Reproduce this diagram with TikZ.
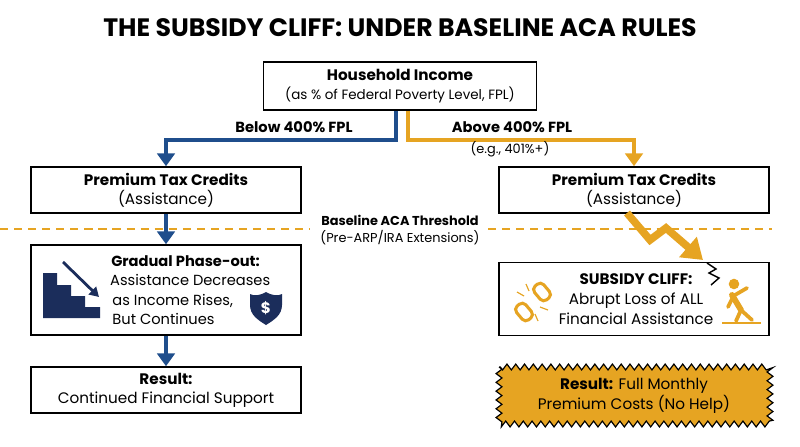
\documentclass[tikz,border=0pt]{standalone}
\usepackage{fontspec}
\setmainfont{Poppins}
\usetikzlibrary{positioning,decorations.pathmorphing,arrows.meta}
\definecolor{acablue}{HTML}{1F4E8C}
\definecolor{acanavy}{HTML}{1B2D5B}
\definecolor{acaorange}{HTML}{E6A422}

\begin{document}
\begin{tikzpicture}[x=0.03cm,y=-0.03cm,
  box/.style={draw=black,line width=1.3pt,fill=white,minimum width=8.1cm,align=center,font=\fontsize{13}{16}\selectfont},
  lbl/.style={align=center,font=\fontsize{11}{14}\selectfont},
  bluearrow/.style={draw=acablue,line width=3.2pt,-{Triangle[length=11pt,width=15pt]}},
  orangearrow/.style={draw=acaorange,line width=3.2pt,-{Triangle[length=11pt,width=15pt]}}]
\useasboundingbox (0,0) rectangle (800,447);

% Title
\node (title) at (400,28) {\fontsize{21.5}{24}\selectfont\bfseries THE SUBSIDY CLIFF: UNDER BASELINE ACA RULES};

% Top box
\node [box,minimum width=8.2cm,minimum height=1.45cm] (income) at (400,86) {\textbf{Household Income}\\{\fontsize{11.5}{14}\selectfont(as \% of Federal Poverty Level, FPL)}};

% Tax credit boxes
\node [box,minimum height=1.38cm] (ptcL) at (166,190) {\textbf{Premium Tax Credits}\\(Assistance)};
\node [box,minimum height=1.38cm] (ptcR) at (634,190) {\textbf{Premium Tax Credits}\\(Assistance)};

% Split
\coordinate (splitL) at (396,140);
\coordinate (splitR) at (408,140);
\draw [bluearrow] (income.south -| splitL) -- (splitL) -| (ptcL.north);
\draw [orangearrow] (income.south -| splitR) -- (splitR) -| (ptcR.north);
\node [lbl,font=\fontsize{12.5}{14}\selectfont\bfseries] (below) at (294,127) {Below 400\% FPL};
\node [lbl,font=\fontsize{12.5}{14}\selectfont\bfseries] (above) at (512,127) {Above 400\% FPL};
\node [lbl] (eg) at (510,149) {(e.g., 401\%+)};

% Threshold
\draw [acaorange,line width=1.3pt,dash pattern=on 7pt off 5pt] (0,229) -- (310,229);
\draw [acaorange,line width=1.3pt,dash pattern=on 7pt off 5pt] (488,229) -- (772,229);
\node [lbl,font=\fontsize{11}{15}\selectfont] (thresh) at (400,230) {\textbf{Baseline ACA Threshold}\\(Pre-ARP/IRA Extensions)};

% Left column
\node [box,minimum height=2.7cm] (phase) at (166,290) {};
\node [align=left,anchor=west,font=\fontsize{12.5}{16.5}\selectfont] (phasetxt) at (106,290) {\hspace*{1pt}\textbf{Gradual Phase-out:}\\Assistance Decreases\\\hspace*{2pt}as Income Rises,\\\hspace*{2pt}But Continues};
\node [box,minimum height=1.38cm] (resL) at (166,390) {\textbf{Result:}\\Continued Financial Support};
\draw [bluearrow] (ptcL.south) -- (phase.north);
\draw [bluearrow] (phase.south) -- (resL.north);

% stairs icon
\fill [acanavy] (43,318) -- (43,273) -- (57,273) -- (57,285) -- (71,285) -- (71,296) -- (85,296) -- (85,307) -- (100,307) -- (100,318) -- cycle;
\draw [acanavy,line width=2.4pt,-{Triangle[length=8pt,width=9pt]}] (63,262) -- (99,297);
% shield icon
\fill [acanavy] (266,292) .. controls (273,296) and (278,296) .. (282,294) -- (282,305) .. controls (282,315) and (274,320) .. (266,325) .. controls (258,320) and (250,315) .. (250,305) -- (250,294) .. controls (254,296) and (259,296) .. (266,292) -- cycle;
\node [text=white,font=\fontsize{13}{13}\selectfont\bfseries] (dollar) at (266,308) {\$};

% Right column
\node [box,minimum height=2.2cm] (cliff) at (634,299) {};
\node [align=center,font=\fontsize{13}{17}\selectfont] (clifftxt) at (636,299) {\textbf{SUBSIDY CLIFF:}\\Abrupt Loss of ALL\\Financial Assistance};
\coordinate (dropstart) at (627,213);
\coordinate (crack) at (707,263);
\draw [acaorange,line width=6.5pt,line join=miter,-{Triangle[length=17pt,width=22pt]}] (dropstart) -- (650,240) -- (666,228) -- (703,260);
% crack
\draw [black,line width=1.2pt] (crack) -- (716,269) -- (709,273) -- (719,278) -- (711,285);
% broken chain
\begin{scope}[acaorange,line width=2.6pt]
\draw [rounded corners=4pt,rotate around={-50:(542,292)}] (533,286) rectangle (551,298);
\draw [rounded corners=4pt,rotate around={-50:(524,312)}] (515,306) rectangle (533,318);
\draw [line width=1pt] (517,292) -- (524,296) (526,284) -- (529,291) (540,307) -- (548,310) (535,314) -- (538,321);
\end{scope}
% falling person
\begin{scope}[acaorange]
\fill (734,284) circle (4.5pt);
\draw [line width=5pt,line cap=round] (732,295) -- (741,310);
\draw [line width=3.2pt,line cap=round] (741,310) -- (736,321) (741,310) -- (752,320) (733,297) -- (728,307) (735,295) -- (747,288);
\draw [line width=1.5pt] (722,323) -- (761,323);
\end{scope}

% Final result
\draw [decorate,decoration={zigzag,segment length=7.5pt,amplitude=2.5pt},fill=acaorange,draw=black,line width=1pt] (499,367) rectangle (770,424);
\node [align=center,font=\fontsize{13}{17}\selectfont] (resR) at (634,396) {\textbf{Result:} Full Monthly\\Premium Costs (No Help)};
\end{tikzpicture}
\end{document}
